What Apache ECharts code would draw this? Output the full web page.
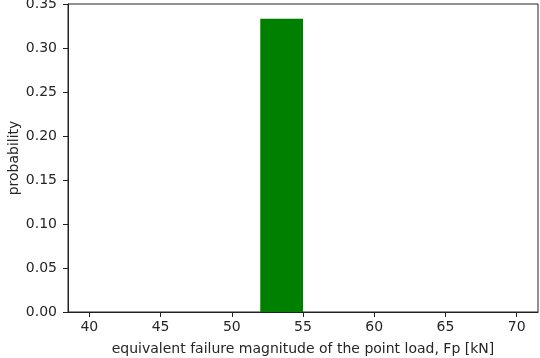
<!DOCTYPE html>
<html>
<head>
<meta charset="utf-8">
<script src="https://cdn.jsdelivr.net/npm/echarts@6/dist/echarts.min.js"></script>
<style>
  html, body { margin: 0; padding: 0; background: #fff; }
  #chart { width: 540px; height: 358px; }
</style>
</head>
<body>
<div id="chart"></div>
<script>
// Histogram bin edges (kN) and the probability of each bin
const binEdges = [40, 43, 46, 49, 52, 55, 58, 61, 64, 67, 70];
const probabilities = [0, 0, 0, 0, 0.3333, 0, 0, 0, 0, 0];
const xTicks = [40, 45, 50, 55, 60, 65, 70];
const yTicks = [0, 0.05, 0.10, 0.15, 0.20, 0.25, 0.30, 0.35];

const xLabel = 'equivalent failure magnitude of the point load, Fp [kN]';
const yLabel = 'probability';

// Each bar spans [start, end] on the x axis with height = probability
const bars = probabilities.map((p, i) => [binEdges[i], binEdges[i + 1], p]);

// 5% padding on both sides of the binned range
const span = binEdges[binEdges.length - 1] - binEdges[0];
const xMin = binEdges[0] - 0.05 * span;
const xMax = binEdges[binEdges.length - 1] + 0.05 * span;

const textColor = '#262626';
const font = 'DejaVu Sans';
const fontSize = 14;

const chart = echarts.init(document.getElementById('chart'), null, { renderer: 'canvas' });
chart.setOption({
  animation: false,
  backgroundColor: '#ffffff',
  grid: {
    left: 68, right: 2, top: 4, bottom: 46,
    containLabel: false,
    outerBoundsMode: 'none',
    show: true, borderColor: '#222', borderWidth: 1, backgroundColor: 'transparent'
  },
  xAxis: {
    type: 'value',
    min: xMin,
    max: xMax,
    name: xLabel,
    nameLocation: 'middle',
    nameGap: 30,
    nameMoveOverlap: false,
    nameTextStyle: { color: textColor, fontFamily: font, fontSize: fontSize },
    splitLine: { show: false },
    axisLine: { show: true, onZero: false, lineStyle: { color: '#222', width: 1 } },
    axisTick: {
      show: true, length: 5, lineStyle: { color: '#222' },
      customValues: xTicks
    },
    axisLabel: {
      color: textColor, fontFamily: font, fontSize: fontSize, margin: 8,
      customValues: xTicks,
      formatter: v => String(v)
    }
  },
  yAxis: {
    type: 'value',
    min: 0,
    max: 0.35,
    interval: 0.05,
    name: yLabel,
    nameLocation: 'middle',
    nameGap: 47,
    nameMoveOverlap: false,
    nameRotate: 90,
    nameTextStyle: { color: textColor, fontFamily: font, fontSize: fontSize },
    splitLine: { show: false },
    axisLine: { show: true, lineStyle: { color: '#222', width: 1 } },
    axisTick: { show: true, length: 5, lineStyle: { color: '#222' }, customValues: yTicks },
    axisLabel: {
      color: textColor, fontFamily: font, fontSize: fontSize, margin: 11,
      customValues: yTicks,
      formatter: v => v.toFixed(2)
    }
  },
  series: [{
    type: 'custom',
    data: bars,
    encode: { x: [0, 1], y: 2 },
    renderItem: function (params, api) {
      const h = api.value(2);
      if (!h) return null;
      const p0 = api.coord([api.value(0), 0]);
      const p1 = api.coord([api.value(1), h]);
      return {
        type: 'rect',
        shape: { x: p0[0], y: p1[1], width: p1[0] - p0[0], height: p0[1] - p1[1] },
        style: { fill: '#008000' }
      };
    }
  }]
});
</script>
</body>
</html>
